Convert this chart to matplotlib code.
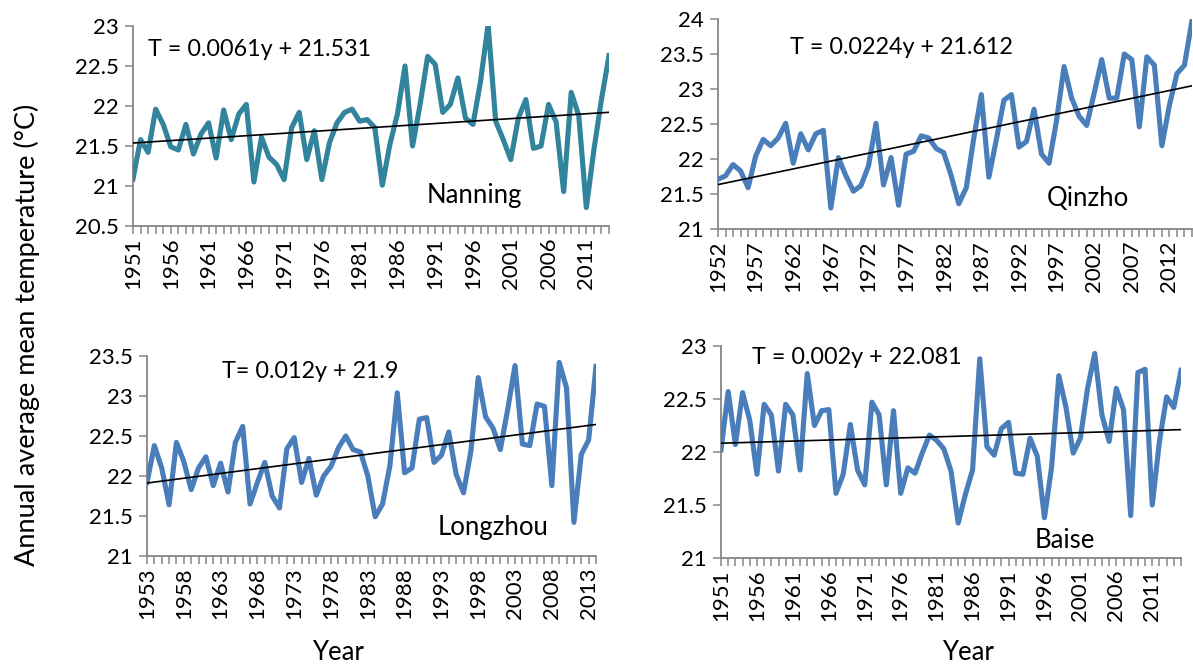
import numpy as np
import matplotlib.pyplot as plt

plt.rcParams['font.family'] = ['Lato', 'DejaVu Sans']

W, H = 1193, 666

# ---- data -------------------------------------------------------------
nanning_years = np.arange(1951, 2015)
nanning_temp = [21.09, 21.58, 21.42, 21.96, 21.77, 21.49, 21.45, 21.77, 21.40, 21.65,
                21.79, 21.35, 21.95, 21.58, 21.90, 22.02, 21.05, 21.61, 21.36, 21.27,
                21.08, 21.73, 21.92, 21.33, 21.69, 21.08, 21.54, 21.79, 21.92, 21.96,
                21.81, 21.83, 21.73, 21.01, 21.52, 21.90, 22.50, 21.50, 22.02, 22.62,
                22.52, 21.92, 22.02, 22.35, 21.85, 21.77, 22.31, 23.02, 21.81, 21.58,
                21.33, 21.85, 22.08, 21.47, 21.50, 22.02, 21.80, 20.93, 22.17, 21.88,
                20.73, 21.45, 22.08, 22.63]

qinzhou_years = np.arange(1952, 2016)
qinzhou_temp = [21.71, 21.76, 21.92, 21.83, 21.59, 22.04, 22.28, 22.19, 22.30, 22.51,
                21.94, 22.36, 22.13, 22.36, 22.41, 21.30, 22.02, 21.76, 21.54, 21.62,
                21.90, 22.51, 21.63, 22.02, 21.34, 22.07, 22.11, 22.33, 22.30, 22.15,
                22.09, 21.76, 21.36, 21.59, 22.30, 22.92, 21.74, 22.28, 22.84, 22.92,
                22.17, 22.25, 22.71, 22.07, 21.94, 22.55, 23.32, 22.87, 22.61, 22.48,
                22.94, 23.42, 22.87, 22.87, 23.50, 23.42, 22.46, 23.46, 23.34, 22.19,
                22.77, 23.22, 23.34, 23.98]

longzhou_years = np.arange(1953, 2015)
longzhou_temp = [21.92, 22.38, 22.10, 21.64, 22.42, 22.18, 21.83, 22.10, 22.24, 21.88,
                 22.16, 21.80, 22.42, 22.62, 21.65, 21.92, 22.17, 21.75, 21.60, 22.34,
                 22.48, 21.92, 22.22, 21.76, 22.00, 22.12, 22.35, 22.50, 22.33, 22.30,
                 22.00, 21.49, 21.65, 22.13, 23.04, 22.04, 22.10, 22.71, 22.73, 22.17,
                 22.26, 22.55, 22.02, 21.79, 22.31, 23.23, 22.74, 22.60, 22.33, 22.83,
                 23.38, 22.40, 22.38, 22.90, 22.87, 21.88, 23.42, 23.10, 21.42, 22.27,
                 22.45, 23.37]

baise_years = np.arange(1951, 2016)
baise_temp = [22.02, 22.57, 22.07, 22.56, 22.30, 21.79, 22.45, 22.35, 21.82, 22.45,
              22.35, 21.83, 22.74, 22.25, 22.39, 22.40, 21.61, 21.79, 22.26, 21.83,
              21.69, 22.47, 22.35, 21.69, 22.39, 21.61, 21.85, 21.80, 21.99, 22.16,
              22.11, 22.03, 21.82, 21.33, 21.60, 21.83, 22.88, 22.05, 21.97, 22.22,
              22.28, 21.80, 21.79, 22.13, 21.96, 21.38, 21.86, 22.72, 22.42, 21.99,
              22.13, 22.60, 22.93, 22.35, 22.10, 22.60, 22.40, 21.40, 22.75, 22.78,
              21.50, 22.10, 22.52, 22.42, 22.77]

# trend equations as printed on the chart (y = 1 for the first year)
trend_slope = {'Nanning': 0.0061, 'Qinzhou': 0.0224, 'Longzhou': 0.012, 'Baise': 0.002}
trend_icept = {'Nanning': 21.531, 'Qinzhou': 21.612, 'Longzhou': 21.9, 'Baise': 22.081}
trend_text = {'Nanning': 'T = 0.0061y + 21.531', 'Qinzhou': 'T = 0.0224y + 21.612',
              'Longzhou': 'T= 0.012y + 21.9', 'Baise': 'T = 0.002y + 22.081'}
station_label = {'Nanning': 'Nanning', 'Qinzhou': 'Qinzho', 'Longzhou': 'Longzhou',
                 'Baise': 'Baise'}

# ---- layout -------------------------------------------------------------
# pixel boxes: left, right, top, bottom
panels = [
    ('Nanning', nanning_years, nanning_temp, (133, 609, 26, 226), (20.5, 23), '#31849B',
     (148, 50), (427, 195)),
    ('Qinzhou', qinzhou_years, qinzhou_temp, (718, 1192, 19, 229), (21, 24), '#4A7EBB',
     (790, 47), (1047, 198)),
    ('Longzhou', longzhou_years, longzhou_temp, (147, 596, 356, 556), (21, 23.5), '#4A7EBB',
     (222, 372), (438, 528)),
    ('Baise', baise_years, baise_temp, (721, 1181, 346, 558), (21, 23), '#4A7EBB',
     (752, 357), (1035, 540)),
]

fig = plt.figure(figsize=(W / 100, H / 100), dpi=100)
grey = '#868686'

for name, yrs, temp, box, ylim, col, eq_xy, st_xy in panels:
    l, r, t, b = box
    ax = fig.add_axes([l / W, 1 - b / H, (r - l) / W, (b - t) / H])
    ax.plot(yrs, temp, color=col, lw=3.7, solid_joinstyle='round', zorder=3)
    idx = np.arange(1, len(yrs) + 1)
    ax.plot(yrs, trend_slope[name] * idx + trend_icept[name], color='black', lw=1.2, zorder=4)
    ax.set_xlim(yrs[0], yrs[-1])
    ax.set_ylim(*ylim)
    yt = np.arange(ylim[0], ylim[1] + 0.01, 0.5)
    ax.set_yticks(yt)
    ax.set_yticklabels(['%g' % v for v in yt])
    ax.set_xticks(yrs, minor=True)
    ax.set_xticks(yrs[::5])
    ax.set_xticklabels([str(y) for y in yrs[::5]], rotation=90)
    for s in ['top', 'right']:
        ax.spines[s].set_visible(False)
    for s in ['left', 'bottom']:
        ax.spines[s].set_color(grey)
        ax.spines[s].set_linewidth(1.3)
    ax.tick_params(axis='both', which='both', color=grey, width=1.1, labelsize=16,
                   direction='out')
    ax.tick_params(axis='x', which='both', length=6, pad=2)
    ax.tick_params(axis='y', length=6, pad=4)
    ax.patch.set_alpha(0)
    fig.text(eq_xy[0] / W, 1 - eq_xy[1] / H, trend_text[name], fontsize=16.8,
             va='center', ha='left')
    fig.text(st_xy[0] / W, 1 - st_xy[1] / H, station_label[name], fontsize=18.5,
             va='center', ha='left')

fig.text(338 / W, 1 - 652 / H, 'Year', fontsize=18.5, ha='center', va='center')
fig.text(968 / W, 1 - 652 / H, 'Year', fontsize=18.5, ha='center', va='center')
fig.text(27 / W, 1 - 335 / H, 'Annual average mean temperature (°C)', fontsize=19.5,
         rotation=90, ha='center', va='center')

fig.savefig('out.png', dpi=100)
